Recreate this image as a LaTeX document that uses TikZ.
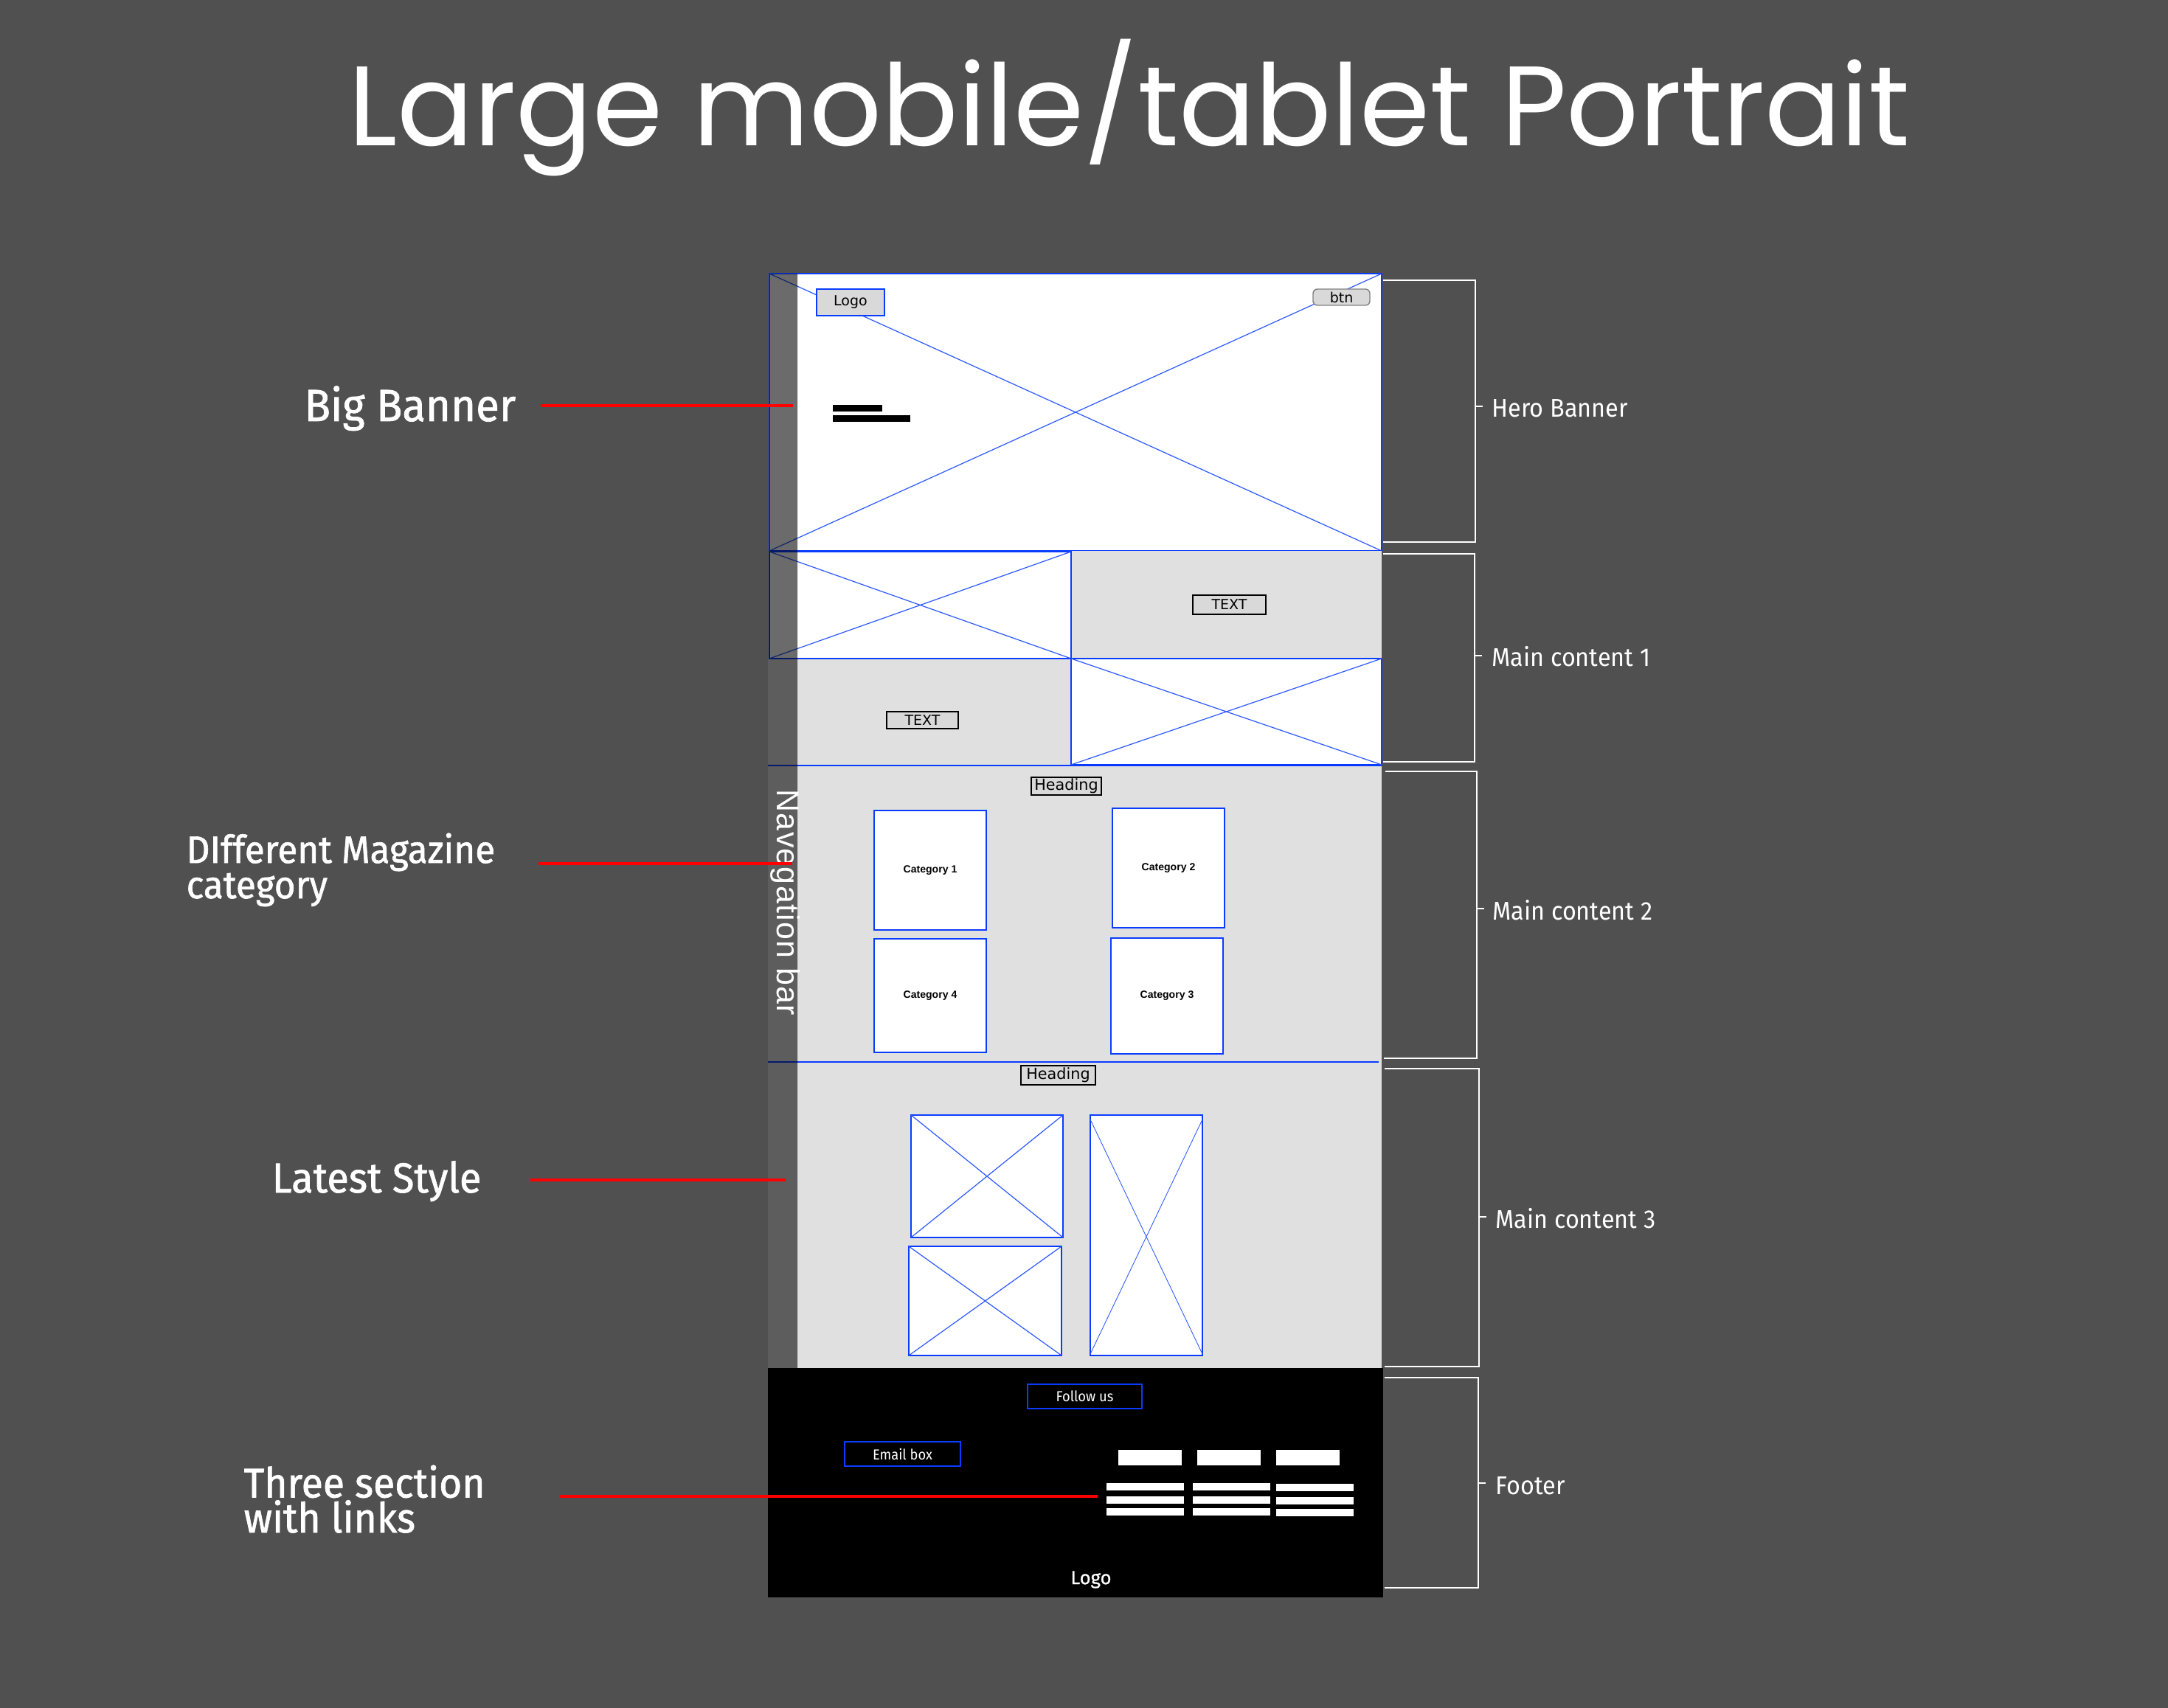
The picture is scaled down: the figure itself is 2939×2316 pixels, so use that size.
\documentclass[tikz,border=0pt]{standalone}
\usepackage{fontspec}
\newfontfamily\titlefont{Poppins}
\newfontfamily\lblfont{Fira Sans}[FakeBold=1.2, FakeStretch=0.95]
\newfontfamily\sidefont{Fira Sans}[FakeStretch=0.93]
\newfontfamily\footfont{Fira Sans}[FakeBold=0.8]
\newfontfamily\uifont{DejaVu Sans}
\newfontfamily\catfont{Liberation Sans}
\newfontfamily\navfont{Liberation Sans}[LetterSpace=3]

\definecolor{bgcol}{HTML}{505050}
\definecolor{panelgray}{HTML}{E0E0E0}
\definecolor{chipgray}{HTML}{D9D9D9}
\definecolor{wfblue}{HTML}{0A3CFF}
\definecolor{diagblue}{HTML}{2F5BFF}
\definecolor{linkred}{HTML}{FF0000}

% wireframe image placeholder: frame with a cross
\newcommand\placeholder[4]{%
  \draw[frame, fill=white] (#1,#2) rectangle (#3,#4);
  \draw[cross] (#1,#2) -- (#3,#4) (#1,#4) -- (#3,#2);}

\begin{document}
\begin{tikzpicture}[x=0.01cm,y=-0.01cm,
  frame/.style={draw=wfblue, line width=0.75pt},
  cross/.style={draw=diagblue, line width=0.35pt},
  chip/.style={draw=black, fill=chipgray, line width=0.4pt, inner sep=0,
    text=black, font=\uifont\fontsize{5.4}{6}\selectfont},
  catbox/.style={draw=wfblue, fill=white, line width=0.75pt, inner sep=0,
    minimum width=1.52cm, text=black, font=\catfont\bfseries\fontsize{4}{5}\selectfont},
  footbox/.style={draw=wfblue, line width=0.4pt, inner sep=0, text=white,
    font=\sidefont\fontsize{5.6}{6}\selectfont},
  lbl/.style={anchor=base west, inner sep=0, text=white, align=left},
  side/.style={anchor=base west, inner sep=0, text=white,
    font=\sidefont\fontsize{9.9}{11}\selectfont},
  bracket/.style={draw=white, line width=0.6pt},
  pointer/.style={draw=linkred, line width=1pt},
  whitebar/.style={fill=white}
]
% page
\fill[bgcol] (0,0) rectangle (2939,2316);
\useasboundingbox (0,0) rectangle (2939,2316);

% title
\node[anchor=base, inner sep=0, text=white,
  font=\titlefont\fontsize{43.6}{50}\selectfont] (title) at (1531,198)
  {Large mobile/tablet Portrait};

% ---------- hero banner ----------
\fill[white] (1043,371) rectangle (1873,747);
\draw[cross] (1043,371) -- (1873,747) (1043,747) -- (1873,371);
\draw[frame] (1043,371) rectangle (1873,747);
\node[chip, draw=wfblue, minimum width=0.92cm, minimum height=0.36cm] (herologo) at (1153,410) {Logo};
\node[chip, draw=gray, rounded corners=0.06cm, minimum width=0.77cm, minimum height=0.22cm] (herobtn) at (1818.5,403) {btn};
\fill[black] (1129,549) rectangle (1196,558);
\fill[black] (1129,563) rectangle (1234,572);

% ---------- main content 1 ----------
\fill[panelgray] (1041,747) rectangle (1873,1038);
\placeholder{1043}{748}{1452}{893}
\placeholder{1452}{893}{1873}{1037}
\node[chip, minimum width=0.99cm, minimum height=0.26cm] (textA) at (1666.5,820) {TEXT};
\node[chip, minimum width=0.97cm, minimum height=0.23cm] (textB) at (1250.5,976.5) {TEXT};

% ---------- main content 2 and 3 ----------
\fill[panelgray] (1041,1038) rectangle (1873,1855);
\draw[frame] (1041,1038) -- (1873,1038);
\draw[frame] (1041,1440) -- (1869,1440);

\node[chip, minimum width=0.95cm, minimum height=0.24cm, font=\uifont\fontsize{5.9}{6}\selectfont] (headA) at (1445.5,1066) {Heading};
\node[catbox, minimum height=1.62cm] (cat1) at (1261,1180) {Category 1};
\node[catbox, minimum height=1.62cm] (cat2) at (1584,1177) {Category 2};
\node[catbox, minimum height=1.54cm] (cat4) at (1261,1350) {Category 4};
\node[catbox, minimum height=1.57cm] (cat3) at (1582,1350.5) {Category 3};

\node[chip, minimum width=1.01cm, minimum height=0.26cm, font=\uifont\fontsize{5.9}{6}\selectfont] (headB) at (1434.5,1458) {Heading};
\placeholder{1235}{1512}{1441}{1678}
\placeholder{1232}{1690}{1439}{1838}
\draw[frame, fill=white] (1478,1512) rectangle (1630,1838);
\draw[cross, line width=0.25pt] (1478,1518) -- (1630,1836) (1478,1836) -- (1630,1518);

% ---------- footer ----------
\fill[black] (1041,1855) rectangle (1875,2166);
\node[footbox, minimum width=1.55cm, minimum height=0.33cm] (follow) at (1470.5,1893.5) {Follow us};
\node[footbox, minimum width=1.57cm, minimum height=0.33cm] (email) at (1223.5,1971.5) {Email box};
\foreach \xa/\xb in {1516/1602,1623/1709,1730/1816}
  \fill[whitebar] (\xa,1966) rectangle (\xb,1987);
\foreach \xa/\xb/\dy in {1500/1605/0,1617/1722/0,1730/1835/1}
  \foreach \ya/\yb in {2011/2021,2029/2039,2045/2055}
    \fill[whitebar] (\xa,\ya+\dy) rectangle (\xb,\yb+\dy);
\node[inner sep=0, text=white, font=\footfont\fontsize{7.3}{8}\selectfont] (footlogo) at (1479,2142) {Logo};

% ---------- navigation bar overlay ----------
\fill[black, opacity=0.58] (1043,371) -- (1081,371) -- (1081,1855) -- (1041,1855)
  -- (1041,747) -- (1043,747) -- cycle;
\node[rotate=-90, anchor=base west, inner sep=0, text=white,
  font=\navfont\fontsize{12.2}{14}\selectfont] (nav) at (1053,1070) {Navegation bar};

% ---------- section brackets ----------
\draw[bracket] (1875,380) -- (2000,380) -- (2000,735) -- (1875,735);
\draw[bracket] (1875,751) -- (1999,751) -- (1999,1033) -- (1875,1033);
\draw[bracket] (1878,1046) -- (2002,1046) -- (2002,1435) -- (1876,1435);
\draw[bracket] (1877,1449) -- (2005,1449) -- (2005,1853) -- (1877,1853);
\draw[bracket] (1877,1868) -- (2004,1868) -- (2004,2153) -- (1877,2153);

\node[side] (sHero) at (2022,566) {Hero Banner};
\node[side] (sMain1) at (2022,904) {Main content 1};
\node[side] (sMain2) at (2023,1247) {Main content 2};
\node[side] (sMain3) at (2027,1665) {Main content 3};
\node[side] (sFoot) at (2027,2026) {Footer};

\coordinate (tHero) at (2000,551);  \draw[bracket] (tHero) -- ++(10,0);
\coordinate (tMain1) at (1999,889); \draw[bracket] (tMain1) -- ++(10,0);
\coordinate (tMain2) at (2002,1232);\draw[bracket] (tMain2) -- ++(10,0);
\coordinate (tMain3) at (2005,1650);\draw[bracket] (tMain3) -- ++(10,0);
\coordinate (tFoot) at (2004,2011); \draw[bracket] (tFoot) -- ++(10,0);

% ---------- left annotations ----------
\node[lbl, font=\lblfont\fontsize{17.4}{20}\selectfont] (lBig) at (412,571) {Big Banner};
\node[lbl, font=\lblfont\fontsize{14.8}{13.6}\selectfont] (lCat) at (252,1218) {DIfferent Magazine\\category};
\node[lbl, font=\lblfont\fontsize{16.2}{18}\selectfont] (lLatest) at (368,1617) {Latest Style};
\node[lbl, font=\lblfont\fontsize{16}{13.5}\selectfont] (lThree) at (330,2078) {Three section\\with links};

\coordinate (pBigS) at (733,550);     \coordinate (pBigE) at (1075,550);
\coordinate (pCatS) at (730,1171);    \coordinate (pCatE) at (1074,1171);
\coordinate (pLatS) at (719,1600);    \coordinate (pLatE) at (1065,1600);
\coordinate (pThrS) at (759,2029);    \coordinate (pThrE) at (1488,2029);
\draw[pointer] (pBigS) -- (pBigE);
\draw[pointer] (pCatS) -- (pCatE);
\draw[pointer] (pLatS) -- (pLatE);
\draw[pointer] (pThrS) -- (pThrE);
\end{tikzpicture}
\end{document}
